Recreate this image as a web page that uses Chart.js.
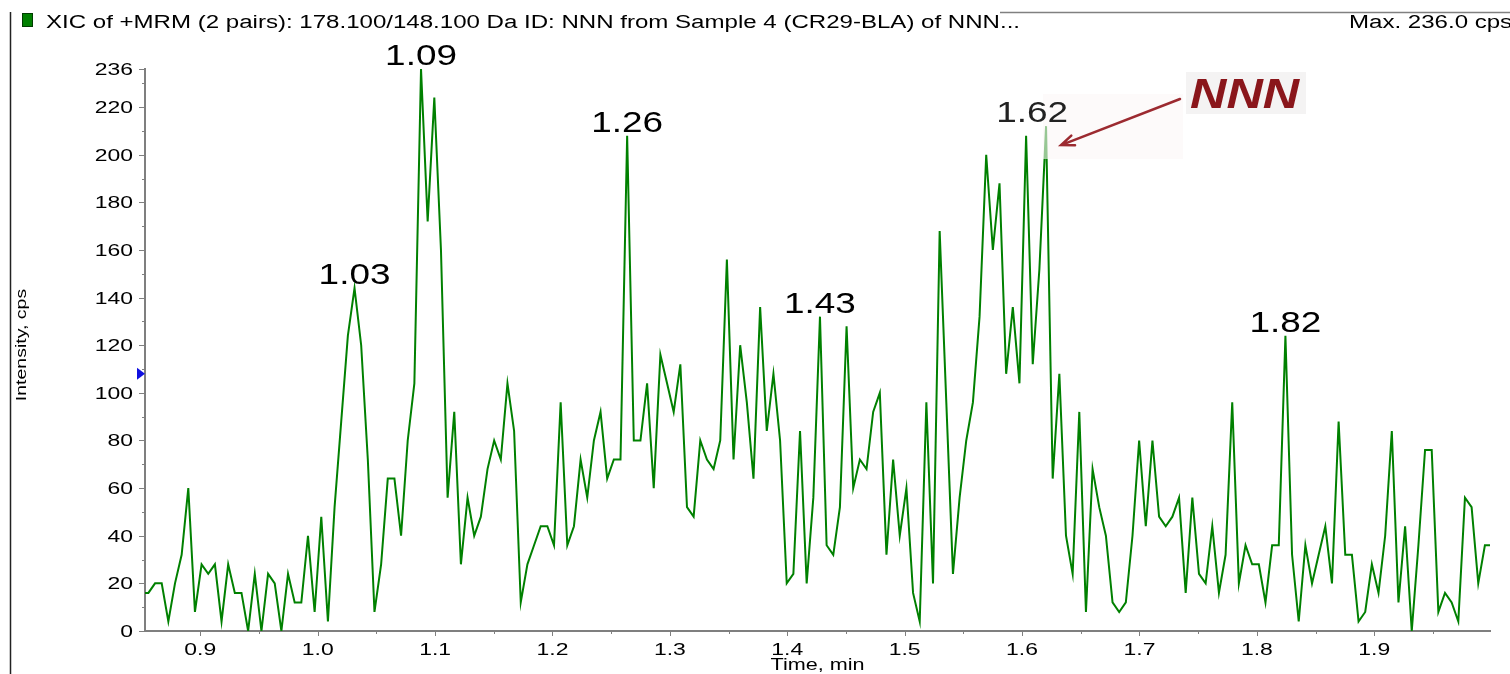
<!DOCTYPE html>
<html>
<head>
<meta charset="utf-8">
<title>XIC of +MRM – NNN</title>
<script src="https://cdn.jsdelivr.net/npm/chart.js@4.4.1/dist/chart.umd.min.js"></script>
<style>
  html, body { margin: 0; padding: 0; background: #fff; overflow: hidden; }
  canvas { display: block; }
</style>
</head>
<body>
<canvas id="xic" width="1510" height="674"></canvas>
<script>
// Acquisition grid: first scan time and MRM cycle time (minutes)
const scanStart = 0.85013;
const cycleTime = 0.005664;

// Extracted ion current, 178.100/148.100 Da (cps), one value per cycle
const intensity = [
  16, 16, 20, 20, 4, 20, 32, 60, 8, 28,
  24, 28, 4, 28, 16, 16, 0, 24, 0, 24,
  20, 0, 24, 12, 12, 40, 8, 48, 4, 52,
  88, 124, 144, 120, 72, 8, 28, 64, 64, 40,
  80, 104, 236, 172, 224, 160, 56, 92, 28, 56,
  40, 48, 68, 80, 72, 104, 84, 12, 28, 36,
  44, 44, 36, 96, 36, 44, 72, 56, 80, 92,
  64, 72, 72, 208, 80, 80, 104, 60, 116, 104,
  92, 112, 52, 48, 80, 72, 68, 80, 156, 72,
  120, 96, 64, 136, 84, 108, 80, 20, 24, 84,
  20, 56, 132, 36, 32, 52, 128, 60, 72, 68,
  92, 100, 32, 72, 40, 60, 16, 4, 96, 20,
  168, 96, 24, 56, 80, 96, 132, 200, 160, 188,
  108, 136, 104, 208, 112, 152, 212, 64, 108, 40,
  24, 92, 8, 68, 52, 40, 12, 8, 12, 40,
  80, 44, 80, 48, 44, 48, 56, 16, 56, 24,
  20, 44, 16, 32, 96, 20, 36, 28, 28, 12,
  36, 36, 124, 32, 4, 36, 20, 32, 44, 20,
  88, 32, 32, 4, 8, 28, 16, 40, 84, 12,
  44, 0, 36, 76, 76, 8, 16, 12, 4, 56,
  52, 20, 36, 36
];

// Axis ticks
const yTicks = [0, 20, 40, 60, 80, 100, 120, 140, 160, 180, 200, 220, 236];
const yMinorTicks = [10, 30, 50, 70, 90, 110, 130, 150, 170, 190, 210, 230];
const xTicks = [0.9, 1.0, 1.1, 1.2, 1.3, 1.4, 1.5, 1.6, 1.7, 1.8, 1.9];
const xMinorTicks = [0.95, 1.05, 1.15, 1.25, 1.35, 1.45, 1.55, 1.65, 1.75, 1.85, 1.95];

// Apex annotations: retention-time text and the scan it sits on
const peakLabels = ['1.03', '1.09', '1.26', '1.43', '1.62', '1.82'];
const peakScans = [32, 42, 73, 102, 136, 172];

const thresholdLevel = 108;

const headerText = 'XIC of +MRM (2 pairs): 178.100/148.100 Da ID: NNN from Sample 4 (CR29-BLA) of NNN...';
const maxText = 'Max. 236.0 cps';

const points = intensity.map((v, i) => ({ x: scanStart + i * cycleTime, y: v }));

const SANS = '"Liberation Sans", Arial, Helvetica, sans-serif';

// Text drawn with a horizontal stretch, anchored by its left/right/centre
function wideText(ctx, text, x, y, opt) {
  const o = Object.assign({ size: 17, weight: '', style: '', align: 'left', baseline: 'alphabetic', sx: 1.35, color: '#000' }, opt || {});
  ctx.save();
  ctx.font = `${o.style} ${o.weight} ${o.size}px ${SANS}`.trim();
  ctx.fillStyle = o.color;
  ctx.textBaseline = o.baseline;
  ctx.textAlign = 'left';
  const w = ctx.measureText(text).width * o.sx;
  const left = o.align === 'left' ? x : (o.align === 'right' ? x - w : x - w / 2);
  ctx.translate(left, y);
  ctx.scale(o.sx, 1);
  ctx.fillText(text, 0, 0);
  ctx.restore();
  return w;
}

const backdrop = {
  id: 'backdrop',
  beforeDraw(chart) {
    const ctx = chart.ctx;
    ctx.save();
    ctx.fillStyle = '#ffffff';
    ctx.fillRect(0, 0, chart.width, chart.height);
    // light panel behind the compound tag
    ctx.fillStyle = '#f4f3f3';
    ctx.fillRect(1186, 72, 120, 42);
    ctx.restore();
  }
};

const annotations = {
  id: 'annotations',
  afterDatasetsDraw(chart) {
    const ctx = chart.ctx;
    const xs = chart.scales.x, ys = chart.scales.y;

    // translucent callout panel next to the 1.62 apex
    ctx.save();
    ctx.fillStyle = 'rgba(252, 246, 246, 0.6)';
    ctx.fillRect(1043, 94, 140, 65);
    ctx.restore();

    // apex retention times
    peakLabels.forEach((txt, k) => {
      const p = points[peakScans[k]];
      const px = xs.getPixelForValue(p.x);
      const py = ys.getPixelForValue(p.y);
      const dx = txt === '1.62' ? -14 : 0;
      wideText(ctx, txt, px + dx, py - 4, { size: 30, sx: 1.23, align: 'center', color: txt === '1.62' ? '#222' : '#000' });
    });

    // compound tag and arrow pointing at the 1.62 apex
    const tip = { x: xs.getPixelForValue(points[136].x) + 15, y: ys.getPixelForValue(points[136].y) + 19 };
    const tail = { x: 1180, y: 99 };
    ctx.save();
    ctx.strokeStyle = '#9c2a30';
    ctx.lineWidth = 2.5;
    ctx.lineCap = 'round';
    ctx.beginPath();
    ctx.moveTo(tail.x, tail.y);
    ctx.lineTo(tip.x, tip.y);
    const ang = Math.atan2(tail.y - tip.y, tail.x - tip.x);
    const head = 14, spread = 0.38;
    ctx.moveTo(tip.x + head * Math.cos(ang + spread), tip.y + head * Math.sin(ang + spread));
    ctx.lineTo(tip.x, tip.y);
    ctx.lineTo(tip.x + head * Math.cos(ang - spread), tip.y + head * Math.sin(ang - spread));
    ctx.stroke();
    ctx.restore();
    wideText(ctx, 'NNN', 1190, 108, { size: 42, weight: 'bold', style: 'italic', sx: 1.2, color: '#8a161b' });
  }
};

const frame = {
  id: 'frame',
  afterDraw(chart) {
    const ctx = chart.ctx;
    const xs = chart.scales.x, ys = chart.scales.y;
    const area = chart.chartArea;
    ctx.save();
    ctx.strokeStyle = '#7f7f7f';
    ctx.lineWidth = 1;
    // y ticks
    yTicks.forEach(v => {
      const y = Math.round(ys.getPixelForValue(v)) + 0.5;
      ctx.beginPath(); ctx.moveTo(area.left - 6, y); ctx.lineTo(area.left, y); ctx.stroke();
    });
    yMinorTicks.forEach(v => {
      const y = Math.round(ys.getPixelForValue(v)) + 0.5;
      ctx.beginPath(); ctx.moveTo(area.left - 3, y); ctx.lineTo(area.left, y); ctx.stroke();
    });
    // x ticks
    xTicks.forEach(v => {
      const x = Math.round(xs.getPixelForValue(v)) + 0.5;
      ctx.beginPath(); ctx.moveTo(x, area.bottom); ctx.lineTo(x, area.bottom + 5); ctx.stroke();
    });
    xMinorTicks.forEach(v => {
      const x = Math.round(xs.getPixelForValue(v)) + 0.5;
      ctx.beginPath(); ctx.moveTo(x, area.bottom); ctx.lineTo(x, area.bottom + 3); ctx.stroke();
    });
    ctx.restore();

    // tick labels
    yTicks.forEach(v => {
      wideText(ctx, String(v), area.left - 12, ys.getPixelForValue(v) + 6, { size: 17, sx: 1.35, align: 'right' });
    });
    xTicks.forEach(v => {
      wideText(ctx, v.toFixed(1), xs.getPixelForValue(v), area.bottom + 24, { size: 17, sx: 1.35, align: 'center' });
    });

    // axis titles
    wideText(ctx, 'Time, min', (area.left + area.right) / 2, 670, { size: 16, sx: 1.35, align: 'center' });
    ctx.save();
    ctx.translate(26, 345);
    ctx.rotate(-Math.PI / 2);
    wideText(ctx, 'Intensity, cps', 0, 0, { size: 15, sx: 1.3, align: 'center' });
    ctx.restore();

    // threshold marker on the intensity axis
    const ty = ys.getPixelForValue(thresholdLevel);
    ctx.save();
    ctx.fillStyle = '#1010e0';
    ctx.beginPath();
    ctx.moveTo(area.left - 8, ty - 6);
    ctx.lineTo(area.left, ty);
    ctx.lineTo(area.left - 8, ty + 6);
    ctx.closePath();
    ctx.fill();
    ctx.restore();

    // pane outline
    ctx.save();
    ctx.strokeStyle = '#222';
    ctx.lineWidth = 1.5;
    ctx.beginPath(); ctx.moveTo(10.5, 12); ctx.lineTo(10.5, 674); ctx.stroke();
    ctx.strokeStyle = '#808080';
    ctx.lineWidth = 1.5;
    ctx.beginPath(); ctx.moveTo(1000, 12.5); ctx.lineTo(1510, 12.5); ctx.stroke();
    ctx.restore();

    // header: trace swatch, description and maximum
    ctx.save();
    ctx.fillStyle = '#008000';
    ctx.fillRect(22, 13, 11, 14);
    ctx.strokeStyle = '#003c00';
    ctx.lineWidth = 1;
    ctx.strokeRect(22.5, 13.5, 10, 13);
    ctx.restore();
    ctx.save();
    ctx.font = `18px ${SANS}`;
    const natural = ctx.measureText(headerText).width;
    ctx.restore();
    const hsx = 974 / natural;
    wideText(ctx, headerText, 46, 28, { size: 18, sx: hsx });
    wideText(ctx, maxText, 1349, 28, { size: 18, sx: hsx });
  }
};

new Chart(document.getElementById('xic'), {
  type: 'line',
  data: {
    datasets: [{
      label: 'XIC 178.100/148.100',
      data: points,
      borderColor: '#008000',
      borderWidth: 2,
      pointRadius: 0,
      tension: 0,
      fill: false
    }]
  },
  options: {
    responsive: false,
    animation: false,
    devicePixelRatio: 1,
    layout: { padding: { left: 0, right: 20, top: 69, bottom: 0 } },
    plugins: { legend: { display: false }, tooltip: { enabled: false }, title: { display: false } },
    scales: {
      x: {
        type: 'linear',
        min: 0.8529,
        max: 1.9986,
        afterFit: s => { s.height = 43; },
        ticks: { display: false },
        grid: { display: false, drawTicks: false },
        border: { display: true, color: '#7f7f7f', width: 2 }
      },
      y: {
        type: 'linear',
        min: 0,
        max: 236,
        afterFit: s => { s.width = 145; },
        ticks: { display: false },
        grid: { display: false, drawTicks: false },
        border: { display: true, color: '#7f7f7f', width: 2 }
      }
    }
  },
  plugins: [backdrop, annotations, frame]
});
</script>
</body>
</html>
